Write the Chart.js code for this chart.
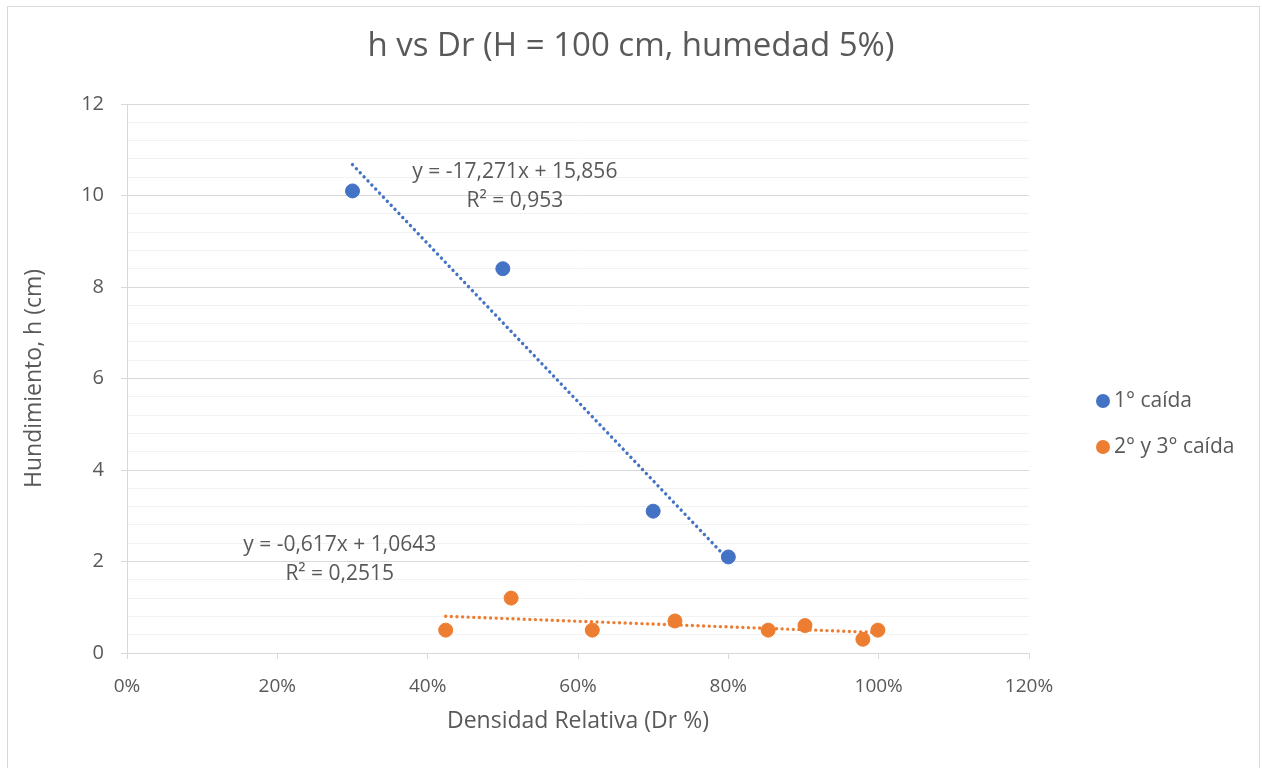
<!DOCTYPE html>
<html>
<head>
<meta charset="utf-8">
<script src="https://cdn.jsdelivr.net/npm/chart.js@4.4.1/dist/chart.umd.min.js"></script>
<style>
    html, body { margin: 0; padding: 0; background: #fff; }
    #wrap { position: relative; width: 1262px; height: 768px; }
    #frame {
        position: absolute; left: 7px; top: 6px; width: 1253px; height: 780px;
        border: 1px solid #d9d9d9; box-sizing: border-box; pointer-events: none;
    }
</style>
</head>
<body>
<div id="wrap">
    <canvas id="chart" width="1262" height="768"></canvas>
    <div id="frame"></div>
</div>
<script>
// Data
const chartTitle = 'h vs Dr (H = 100 cm, humedad 5%)';
const seriesNames = ['1° caída', '2° y 3° caída'];
const seriesColors = ['#4472C4', '#ED7D31'];

const caida1X = [0.30, 0.50, 0.70, 0.80];
const caida1Y = [10.1, 8.4, 3.1, 2.1];

const caida23X = [0.424, 0.511, 0.619, 0.729, 0.853, 0.902, 0.979, 0.999];
const caida23Y = [0.5, 1.2, 0.5, 0.7, 0.5, 0.6, 0.3, 0.5];

// Excel linear trendlines (slope, intercept as printed on the chart)
const trendSlope = [-17.271, -0.617];
const trendIntercept = [15.856, 1.0643];
const trendText = [
    ['y = -17,271x + 15,856', 'R² = 0,953'],
    ['y = -0,617x + 1,0643', 'R² = 0,2515']
];
// where each equation label is centred (in data units)
const trendLabelX = [0.516, 0.283];
const trendLabelY = [10.2, 2.05];

const xTicks = [0, 0.2, 0.4, 0.6, 0.8, 1.0, 1.2];
const yMax = 12;

const textColor = '#595959';
const fontFamily = '"Open Sans", "Noto Sans", sans-serif';

function toPoints(xs, ys) {
    return xs.map((x, i) => ({ x: x, y: ys[i] }));
}

function trendPoints(xs, k) {
    const lo = Math.min(...xs);
    const hi = Math.max(...xs);
    return [lo, hi].map(x => ({ x: x, y: trendSlope[k] * x + trendIntercept[k] }));
}

function isMajor(v) {
    return Math.abs(v / 2 - Math.round(v / 2)) < 1e-6;
}

/**
 * Draws the title (centred on the whole canvas), the trendline equations
 * and the legend on the right
 */
const extrasPlugin = {
    id: 'extras',
    afterDraw(chart) {
        const ctx = chart.ctx;
        const xs = chart.scales.x;
        const ys = chart.scales.y;
        ctx.save();
        ctx.fillStyle = textColor;
        ctx.textAlign = 'center';
        ctx.textBaseline = 'middle';

        ctx.font = '33px ' + fontFamily;
        ctx.fillText(chartTitle, chart.width / 2, 47);

        ctx.font = '21px ' + fontFamily;
        trendText.forEach((lines, k) => {
            const cx = xs.getPixelForValue(trendLabelX[k]);
            const cy = ys.getPixelForValue(trendLabelY[k]);
            ctx.fillText(lines[0], cx, cy - 14);
            ctx.fillText(lines[1], cx, cy + 15);
        });

        // legend
        ctx.textAlign = 'left';
        seriesNames.forEach((name, i) => {
            const y = 401 + i * 46;
            ctx.beginPath();
            ctx.arc(1103, y, 7, 0, Math.PI * 2);
            ctx.fillStyle = seriesColors[i];
            ctx.fill();
            ctx.fillStyle = textColor;
            ctx.fillText(name, 1114, y);
        });
        ctx.restore();
    }
};

const datasets = [
    {
        label: seriesNames[0],
        data: toPoints(caida1X, caida1Y),
        backgroundColor: seriesColors[0],
        borderColor: seriesColors[0],
        pointRadius: 7,
        pointHoverRadius: 7,
        order: 0
    },
    {
        label: seriesNames[1],
        data: toPoints(caida23X, caida23Y),
        backgroundColor: seriesColors[1],
        borderColor: seriesColors[1],
        pointRadius: 7,
        pointHoverRadius: 7,
        order: 0
    }
];

[caida1X, caida23X].forEach((xs, k) => {
    datasets.push({
        label: 'trend' + k,
        data: trendPoints(xs, k),
        showLine: true,
        borderColor: seriesColors[k],
        borderWidth: 3.4,
        borderDash: [0.01, 5.6],
        borderCapStyle: 'round',
        pointRadius: 0,
        pointHoverRadius: 0,
        fill: false,
        order: 1
    });
});

Chart.defaults.font.family = fontFamily;
Chart.defaults.color = textColor;

new Chart(document.getElementById('chart'), {
    type: 'scatter',
    data: { datasets: datasets },
    plugins: [extrasPlugin],
    options: {
        responsive: false,
        animation: false,
        events: [],
        layout: { padding: { top: 104, right: 233, bottom: 0, left: 0 } },
        plugins: {
            legend: { display: false },
            tooltip: { enabled: false },
            title: { display: false }
        },
        scales: {
            x: {
                type: 'linear',
                min: 0,
                max: 1.2,
                afterBuildTicks(scale) {
                    scale.ticks = xTicks.map(v => ({ value: v }));
                },
                afterFit(scale) { scale.height = 115; },
                ticks: {
                    font: { size: 19 },
                    color: textColor,
                    padding: 16,
                    callback: v => Math.round(v * 100) + '%'
                },
                grid: {
                    drawOnChartArea: false,
                    drawTicks: true,
                    tickLength: 6,
                    color: '#d9d9d9'
                },
                border: { color: '#d9d9d9', width: 1 },
                title: {
                    display: true,
                    text: 'Densidad Relativa (Dr %)',
                    color: textColor,
                    font: { size: 23 },
                    padding: { top: 33, bottom: 33 }
                }
            },
            y: {
                type: 'linear',
                min: 0,
                max: yMax,
                afterFit(scale) { scale.width = 127; },
                ticks: {
                    stepSize: 0.4,
                    autoSkip: false,
                    maxTicksLimit: 100,
                    font: { size: 20 },
                    color: textColor,
                    padding: 17,
                    callback: v => isMajor(v) ? String(Math.round(v)) : ''
                },
                grid: {
                    color: c => isMajor(c.tick.value) ? '#d9d9d9' : '#f2f2f2',
                    tickColor: c => isMajor(c.tick.value) ? '#d9d9d9' : 'rgba(0,0,0,0)',
                    tickLength: 6,
                    lineWidth: 1
                },
                border: { color: '#d9d9d9', width: 1 },
                title: {
                    display: true,
                    text: 'Hundimiento, h (cm)',
                    color: textColor,
                    font: { size: 23 },
                    padding: { top: 21, bottom: 21 }
                }
            }
        }
    }
});
</script>
</body>
</html>
